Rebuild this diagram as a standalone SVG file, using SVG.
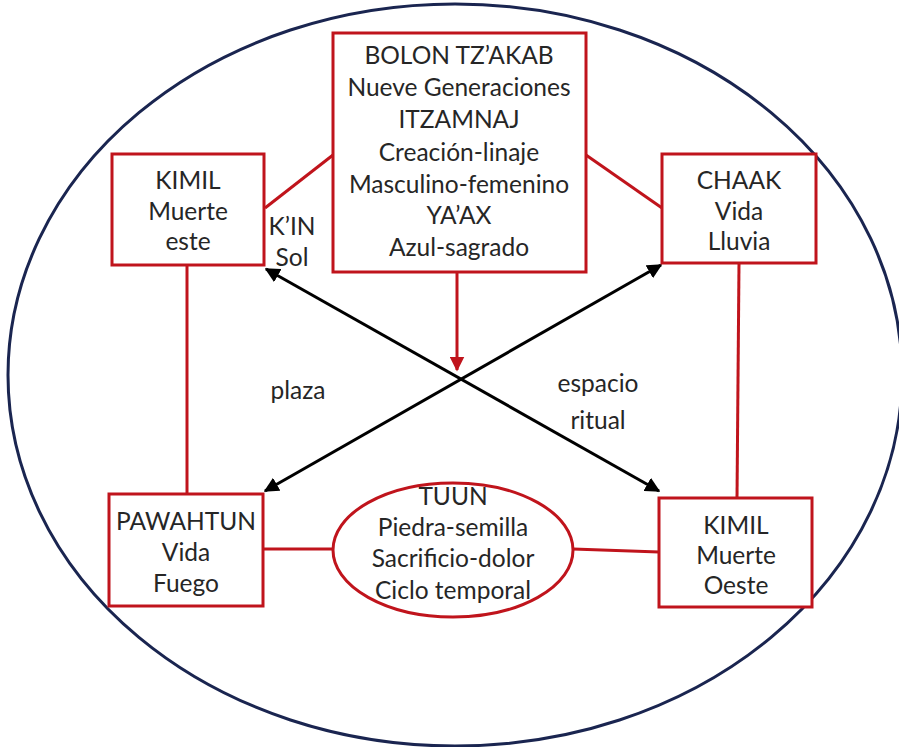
<svg xmlns="http://www.w3.org/2000/svg" width="899" height="747" viewBox="0 0 899 747">
<defs>
<style>
.t{font-family:Lato,"Open Sans","Liberation Sans",sans-serif;font-size:24.5px;fill:#262626;text-anchor:middle}
.box{fill:#fff;stroke:#c0141c;stroke-width:3}
.rl{stroke:#c0141c;stroke-width:3;fill:none}
.bl{stroke:#000;stroke-width:3;fill:none}
</style>
<marker id="ah" viewBox="0 0 10 10" refX="9" refY="5" markerWidth="5" markerHeight="5" orient="auto-start-reverse" markerUnits="strokeWidth"><path d="M0,0L10,5L0,10z" fill="#000"/></marker>
<marker id="rh" viewBox="0 0 10 10" refX="9" refY="5" markerWidth="5" markerHeight="5" orient="auto" markerUnits="strokeWidth"><path d="M0,0L10,5L0,10z" fill="#c0141c"/></marker>
</defs>
<rect width="899" height="747" fill="#fff"/>
<ellipse id="outer" cx="455" cy="375" rx="447" ry="371" fill="none" stroke="#1a2550" stroke-width="3"/>
<g id="connectors">
<line class="rl" x1="265" y1="208" x2="333" y2="155"/>
<line class="rl" x1="586" y1="155" x2="662" y2="208"/>
<line class="rl" x1="187" y1="265" x2="187" y2="494"/>
<line class="rl" x1="739" y1="263" x2="737" y2="498"/>
<line class="rl" x1="263" y1="549" x2="333" y2="549"/>
<line class="rl" x1="573" y1="549" x2="659" y2="552"/>
<line class="rl" x1="457" y1="272" x2="457" y2="370" marker-end="url(#rh)"/>
<line class="bl" x1="266" y1="269" x2="659" y2="491" marker-start="url(#ah)" marker-end="url(#ah)"/>
<line class="bl" x1="661" y1="265" x2="265" y2="491" marker-start="url(#ah)" marker-end="url(#ah)"/>
</g>
<g id="top">
<rect class="box" x="333" y="33" width="253" height="239"/>
<text class="t" x="459" y="64">BOLON TZ’AKAB</text>
<text class="t" x="459" y="96">Nueve Generaciones</text>
<text class="t" x="459" y="128">ITZAMNAJ</text>
<text class="t" x="459" y="161">Creación-linaje</text>
<text class="t" x="459" y="193">Masculino-femenino</text>
<text class="t" x="459" y="224">YA’AX</text>
<text class="t" x="459" y="256">Azul-sagrado</text>
</g>
<g id="kimil-este">
<rect class="box" x="112" y="154" width="152" height="111"/>
<text class="t" x="188" y="189">KIMIL</text>
<text class="t" x="188" y="220">Muerte</text>
<text class="t" x="188" y="250">este</text>
</g>
<g id="kin">
<text class="t" x="292" y="235">K’IN</text>
<text class="t" x="292" y="266">Sol</text>
</g>
<g id="chaak">
<rect class="box" x="662" y="154" width="154" height="109"/>
<text class="t" x="739" y="189">CHAAK</text>
<text class="t" x="739" y="220">Vida</text>
<text class="t" x="739" y="250">Lluvia</text>
</g>
<g id="pawahtun">
<rect class="box" x="109" y="494" width="154" height="112"/>
<text class="t" x="186" y="530">PAWAHTUN</text>
<text class="t" x="186" y="561">Vida</text>
<text class="t" x="186" y="592">Fuego</text>
</g>
<g id="kimil-oeste">
<rect class="box" x="659" y="498" width="153" height="109"/>
<text class="t" x="736" y="534">KIMIL</text>
<text class="t" x="736" y="564">Muerte</text>
<text class="t" x="736" y="594">Oeste</text>
</g>
<g id="tuun">
<ellipse class="box" cx="453" cy="550" rx="120" ry="67"/>
<text class="t" x="453" y="505">TUUN</text>
<text class="t" x="453" y="536">Piedra-semilla</text>
<text class="t" x="453" y="567">Sacrificio-dolor</text>
<text class="t" x="453" y="599">Ciclo temporal</text>
</g>
<g id="labels">
<text class="t" x="298" y="399">plaza</text>
<text class="t" x="598" y="392">espacio</text>
<text class="t" x="598" y="429">ritual</text>
</g>
</svg>
